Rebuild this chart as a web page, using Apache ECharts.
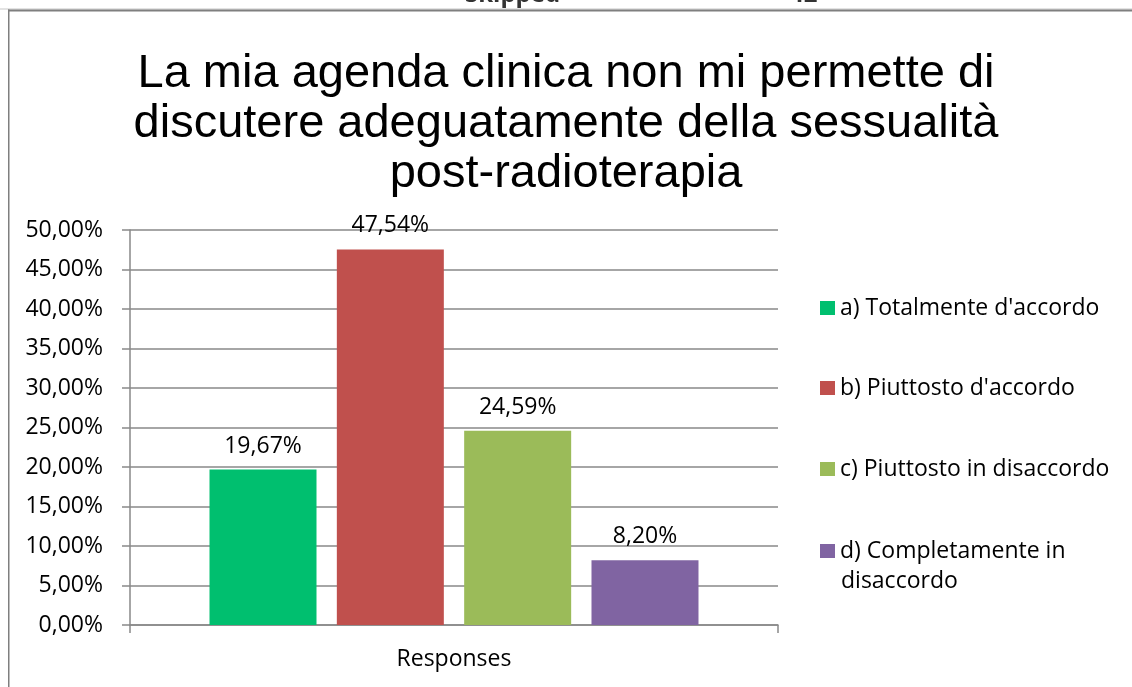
<!DOCTYPE html>
<html>
<head>
<meta charset="utf-8">
<script src="https://cdn.jsdelivr.net/npm/echarts@6/dist/echarts.min.js"></script>
<style>
  html, body { margin: 0; padding: 0; background: #fff; overflow: hidden; }
  #chart { width: 1132px; height: 687px; }
</style>
</head>
<body>
<div id="chart"></div>
<script>
const titleText = 'La mia agenda clinica non mi permette di\ndiscutere adeguatamente della sessualità\npost-radioterapia';
const categories = ['Responses'];
const seriesNames = [
    'a) Totalmente d\'accordo',
    'b) Piuttosto d\'accordo',
    'c) Piuttosto in disaccordo',
    'd) Completamente in disaccordo'
];
const seriesValues = [19.67, 47.54, 24.59, 8.20];
const seriesColors = ['#00BF6F', '#C0504D', '#9BBB59', '#8064A2'];
const headerTexts = ['Skipped', '42'];

const chart = echarts.init(document.getElementById('chart'));
const font = 'Open Sans';
const fontSize = 23;
const axisGray = '#898989';

const fmtPct = v => Number(v).toFixed(2).replace('.', ',') + '%';

// one legend per entry so each sits where the reference puts it;
// the long last name wraps, its second line is drawn below as plain text
const legendTops = [293, 373, 454, 536];
const wrapAt = ' in ';
const lastName = seriesNames[seriesNames.length - 1];
const legends = seriesNames.map((name, i) => ({
    orient: 'vertical',
    left: 820,
    top: legendTops[i],
    padding: 0,
    itemWidth: 15,
    itemHeight: 14,
    icon: 'rect',
    selectedMode: false,
    data: [name],
    formatter: n => n === lastName ? n.split(wrapAt)[0] + ' in' : n,
    textStyle: {
        fontFamily: font,
        fontSize: fontSize,
        lineHeight: 30,
        color: '#000'
    }
}));

const option = {
    backgroundColor: '#fff',
    animation: false,
    title: {
        text: titleText,
        left: 'center',
        top: 49,
        padding: 0,
        textStyle: {
            fontFamily: 'Liberation Sans',
            fontWeight: 'normal',
            fontSize: 47,
            lineHeight: 50,
            color: '#000'
        }
    },
    legend: legends,
    grid: {
        left: 130,
        top: 230,
        width: 648,
        height: 395
    },
    xAxis: {
        type: 'category',
        data: categories,
        axisLine: { lineStyle: { color: axisGray, width: 1.5 } },
        axisTick: { show: true, length: 8, lineStyle: { color: axisGray, width: 1.5 } },
        axisLabel: {
            margin: 23,
            fontFamily: font,
            fontSize: fontSize,
            color: '#000'
        }
    },
    yAxis: {
        type: 'value',
        min: 0,
        max: 50,
        interval: 5,
        axisLine: { show: true, lineStyle: { color: axisGray, width: 1.5 } },
        axisTick: { show: true, length: 8, lineStyle: { color: axisGray, width: 1.5 } },
        splitLine: { lineStyle: { color: axisGray, width: 1.5 } },
        axisLabel: {
            margin: 27,
            fontFamily: font,
            fontSize: fontSize,
            color: '#000',
            formatter: fmtPct
        }
    },
    series: seriesNames.map((name, i) => ({
        name: name,
        type: 'bar',
        data: [seriesValues[i]],
        barWidth: 107,
        barGap: '19%',
        itemStyle: { color: seriesColors[i] },
        label: {
            show: true,
            position: 'top',
            distance: 12,
            fontFamily: font,
            fontSize: fontSize,
            color: '#000',
            formatter: p => fmtPct(p.value)
        }
    })),
    graphic: [
        {
            type: 'text',
            left: 841,
            top: 570,
            style: {
                text: lastName.split(wrapAt)[1],
                font: fontSize + 'px "Open Sans"',
                fill: '#000'
            }
        },
        // header row of the table above, cut off by the frame
        {
            type: 'text',
            x: 465,
            y: -17,
            style: { text: headerTexts[0], font: 'bold 24px "Open Sans"', fill: '#333' }
        },
        {
            type: 'text',
            x: 790,
            y: -17,
            style: { text: headerTexts[1], font: 'bold 24px "Open Sans"', fill: '#333' }
        },
        // frame: light rule, then darker top and left edges
        {
            type: 'rect',
            shape: { x: 0, y: 8.5, width: 1132, height: 1 },
            style: { fill: '#c8c8c8' }
        },
        {
            type: 'rect',
            shape: { x: 8, y: 9.5, width: 1124, height: 2 },
            style: { fill: '#7f7f7f' }
        },
        {
            type: 'rect',
            shape: { x: 8, y: 9.5, width: 1.5, height: 678 },
            style: { fill: '#7f7f7f' }
        }
    ]
};

chart.setOption(option);
</script>
</body>
</html>
